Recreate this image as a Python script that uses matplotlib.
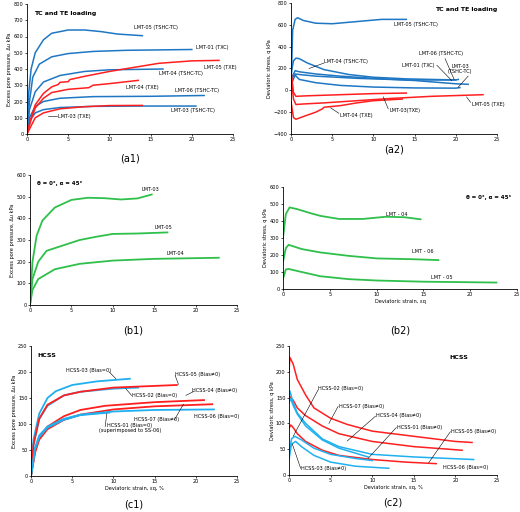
import matplotlib
matplotlib.use("Agg")
import matplotlib.pyplot as plt

BLUE = "#1f77c4"; RED = "#ff1f1f"; GREEN = "#2ec04a"; CYAN = "#20b0f0"

# (a1) excess pore pressure
a1 = {
 "LMT-05 (TSHC-TC)": (BLUE, [0,0.2,0.5,1,2,3,5,7,9,11,14], [0,250,400,500,580,620,640,640,630,615,605]),
 "LMT-01 (TXC)": (BLUE, [0,0.3,0.7,1.5,3,5,8,12,20], [0,200,350,430,475,495,508,515,520]),
 "LMT-04 (TSHC-TC)": (BLUE, [0,0.3,1,2,4,7,10,16.5], [0,150,260,320,360,385,395,400]),
 "LMT-06 (TSHC-TC)": (BLUE, [0,0.3,1,2,4,8,15,21.5], [0,100,170,200,220,230,232,237]),
 "LMT-03 (TSHC-TC)": (BLUE, [0,0.3,1,2,4,8,14,20.5], [0,80,130,150,163,170,172,172]),
 "LMT-05 (TXE)": (RED, [0,0.5,1,2,3,3.8,4,5,5.2,7,10,13,16,20,23.3], [0,100,180,250,290,305,318,322,335,355,385,410,435,450,453]),
 "LMT-04 (TXE)": (RED, [0,0.5,1,2,3,5,7.5,8,10,13.5], [0,90,160,220,255,275,285,300,310,330]),
 "LMT-03 (TXE)": (RED, [0,0.5,1,2,4,7,10,14], [0,50,100,130,155,168,175,176]),
}
# (a2) deviatoric stress
a2 = {
 "LMT-05 (TSHC-TC)": (BLUE, [0,0.2,0.5,0.8,1.5,3,5,8,11,14], [0,550,650,665,640,615,610,630,650,650]),
 "LMT-04 (TSHC-TC)": (BLUE, [0,0.3,0.6,1,2,4,7,10,14,17,20,20.3], [150,270,295,290,250,190,145,120,105,100,95,100]),
 "LMT-01 (TXC)": (BLUE, [0,0.5,1,3,6,10,15,20,21.5], [100,180,170,150,130,110,90,60,55]),
 "LMT-06 (TSHC-TC)": (BLUE, [0,0.5,1,3,8,14,20], [100,150,145,130,110,95,95]),
 "LMT-03 (TSHC-TC)": (BLUE, [0,0.5,1,3,6,10,15,20,20.5], [50,140,100,70,45,30,22,20,25]),
 "LMT-03 (TXE)": (RED, [0,0.3,0.6,2,6,10,14], [180,-20,-55,-50,-40,-30,-25]),
 "LMT-05 (TXE)": (RED, [0,0.3,0.6,1.5,4,8,12,17,23.3], [150,-80,-130,-125,-115,-95,-75,-55,-40]),
 "LMT-04 (TXE)": (RED, [0,0.3,0.6,1.5,3,3.8,4,6,8,10,13.5], [-100,-250,-265,-240,-200,-170,-155,-140,-115,-95,-80]),
}
b1 = {
 "LMT-03": ([0,0.3,0.8,1.5,3,5,7,9,11,13,14.7], [0,200,320,390,450,485,495,493,487,492,510]),
 "LMT-05": ([0,0.3,1,2,4,6,8,10,13,16.6], [0,120,200,250,275,300,315,328,330,335]),
 "LMT-04": ([0,0.3,1,3,6,10,15,22.8], [0,70,120,165,190,205,213,218]),
}
b2 = {
 "LMT - 04": ([0,0.3,0.7,1.5,3,4,6,8.5,11,13,14.7], [300,440,480,470,445,430,412,412,425,422,410]),
 "LMT - 06": ([0,0.3,0.6,2,4,7,10,14,16.6], [160,240,260,235,215,195,180,175,170]),
 "LMT - 05": ([0,0.3,0.6,2,4,7,10,15,22.8], [60,115,118,100,75,58,50,43,38]),
}
c1 = {
 "HCSS-03 (Bias=0)": (CYAN, [0,0.3,1,2,3,5,8,12], [0,70,120,150,163,175,182,187]),
 "HCSS-02 (Bias=0)": (CYAN, [0,0.3,1,2,4,6,10,13], [0,60,110,135,155,162,168,170]),
 "HCSS-05 (Bias≠0)": (RED, [0,0.3,1,2,4,6,10,17.7], [0,60,110,137,155,162,170,175]),
 "HCSS-04 (Bias≠0)": (RED, [0,0.5,1,2,4,6,9,15,21], [0,50,75,95,115,127,135,142,146]),
 "HCSS-07 (Bias≠0)": (RED, [0,0.5,1,2,4,6,10,15,22], [0,45,70,90,108,118,128,134,138]),
 "HCSS-06 (Bias=0)": (CYAN, [0,0.5,1,2,4,6,10,15,22.2], [0,55,78,95,110,118,124,127,128]),
 "HCSS-01 (Bias=0)": (CYAN, [0,0.5,1,2,4,6,9.5], [0,52,75,93,108,117,122]),
}
c2 = {
 "HCSS-07 (Bias≠0)": (RED, [0,0.1,0.5,1,2,3,5,7,10,15,20,22], [200,228,215,185,155,130,110,98,85,75,65,63]),
 "HCSS-04 (Bias≠0)": (RED, [0,0.1,0.5,1,2,4,6,10,15,20.8], [140,152,145,130,115,95,80,65,55,48]),
 "HCSS-05 (Bias≠0)": (RED, [0,0.2,0.5,1,2,4,6,10,14,17.7], [90,97,92,80,65,48,38,30,25,22]),
 "HCSS-06 (Bias=0)": (CYAN, [0,0.1,0.5,1,2,4,6,10,15,22.2], [150,163,140,120,100,70,55,40,35,30]),
 "HCSS-01 (Bias=0)": (CYAN, [0,0.2,0.5,1,2,4,6,9.5], [140,148,135,118,95,68,52,35]),
 "HCSS-02 (Bias=0)": (CYAN, [0,0.3,0.7,1.5,3,5,8,10], [40,70,75,68,52,40,32,28]),
 "HCSS-03 (Bias≠0)": (CYAN, [0,0.3,0.8,1.5,3,5,8,12], [30,60,65,55,38,25,17,13]),
}

fig = plt.figure(figsize=(5.2, 5.12), dpi=100)
FS = 3.6

def mkax(x0, x1, ytop, ybot):
    ax = fig.add_axes([x0/520, 1-ybot/512, (x1-x0)/520, (ybot-ytop)/512])
    for s in ("top", "right"):
        ax.spines[s].set_visible(False)
    for s in ("left", "bottom"):
        ax.spines[s].set_linewidth(0.6)
    ax.tick_params(labelsize=FS, length=1.5, width=0.5, pad=1)
    ax.set_xlim(0, 25); ax.set_xticks(range(0, 26, 5))
    return ax

def lab(ax, s, xy, txt, fs=FS):
    ax.text(xy[0], xy[1], s, fontsize=fs, transform=ax.transData)

# a1
ax = mkax(27, 233, 4, 134)
for k, (c, x, y) in a1.items():
    ax.plot(x, y, color=c, lw=1.1)
ax.set_ylim(0, 800); ax.set_yticks(range(0, 801, 100))
ax.set_ylabel("Excess pore pressure, Δu kPa", fontsize=FS, labelpad=1)
ax.text(0.8, 730, "TC and TE loading", fontsize=4.5, weight="bold")
for s, x, y in [("LMT-05 (TSHC-TC)", 13, 645), ("LMT-01 (TXC)", 20.5, 520), ("LMT-05 (TXE)", 21.5, 400),
                ("LMT-04 (TSHC-TC)", 16, 360), ("LMT-04 (TXE)", 12, 280), ("LMT-06 (TSHC-TC)", 18, 260),
                ("LMT-03 (TSHC-TC)", 17.5, 135), ("LMT-03 (TXE)", 3.8, 100)]:
    ax.text(x, y, s, fontsize=FS)
ax.plot([2.5, 3.6], [110, 110], color="k", lw=0.4)
ax.text(12.5, -170, "(a1)", fontsize=7, ha="center")

# a2
ax = mkax(291, 497, 3, 134)
for k, (c, x, y) in a2.items():
    ax.plot(x, y, color=c, lw=1.1)
ax.set_ylim(-400, 800); ax.set_yticks(range(-400, 801, 200))
ax.set_ylabel("Deviatoric stress, q kPa", fontsize=FS, labelpad=1)
ax.text(17.5, 730, "TC and TE loading", fontsize=4.5, weight="bold")
for s, x, y in [("LMT-05 (TSHC-TC)", 12.5, 590), ("LMT-04 (TSHC-TC)", 4, 250), ("LMT-06 (TSHC-TC)", 15.5, 320),
                ("LMT-01 (TXC)", 13.5, 210), ("LMT-03\n(TSHC-TC)", 20.5, 160), ("LMT-05 (TXE)", 22, -140),
                ("LMT-03(TXE)", 12, -200), ("LMT-04 (TXE)", 6, -240)]:
    ax.text(x, y, s, fontsize=FS, ha="center" if "\n" in s else "left", linespacing=1)
for xs, ys in [([2.2, 4], [200, 250]), ([17.7, 19.5], [230, 90]), ([18.7, 19.8], [290, 100]),
               ([20.3, 21.5], [30, 130]), ([21.3, 21.8], [-60, -110]), ([11.2, 11.8], [-60, -170]),
               ([4.8, 5.8], [-160, -210])]:
    ax.plot(xs, ys, color="k", lw=0.4)
ax.text(12.5, -570, "(a2)", fontsize=7, ha="center")

# b1
ax = mkax(30, 237, 175, 305)
for k, (x, y) in b1.items():
    ax.plot(x, y, color=GREEN, lw=1.3)
ax.set_ylim(0, 600); ax.set_yticks(range(0, 601, 100))
ax.set_ylabel("Excess pore pressure, Δu kPa", fontsize=FS, labelpad=1)
ax.text(0.8, 555, "θ = 0°, α = 45°", fontsize=4, weight="bold")
ax.text(13.5, 525, "LMT-03", fontsize=FS); ax.text(15, 350, "LMT-05", fontsize=FS); ax.text(16.5, 232, "LMT-04", fontsize=FS)
ax.text(12.5, -130, "(b1)", fontsize=7, ha="center")

# b2
ax = mkax(283, 517, 187, 289)
for k, (x, y) in b2.items():
    ax.plot(x, y, color=GREEN, lw=1.3)
ax.set_ylim(0, 600); ax.set_yticks(range(0, 601, 100))
ax.set_ylabel("Deviatoric stress, q kPa", fontsize=FS, labelpad=1)
ax.set_xlabel("Deviatoric strain, εq", fontsize=FS, labelpad=1)
ax.text(19.5, 530, "θ = 0°, α = 45°", fontsize=4, weight="bold")
ax.text(11, 430, "LMT - 04", fontsize=FS); ax.text(13.8, 210, "LMT - 06", fontsize=FS); ax.text(15.8, 60, "LMT - 05", fontsize=FS)
ax.text(12.5, -260, "(b2)", fontsize=7, ha="center")

# c1
ax = mkax(31, 237, 346, 476)
for k, (c, x, y) in c1.items():
    ax.plot(x, y, color=c, lw=1.3)
ax.set_ylim(0, 250); ax.set_yticks(range(0, 251, 50))
ax.set_ylabel("Excess pore pressure, Δu kPa", fontsize=FS, labelpad=1)
ax.set_xlabel("Deviatoric strain, εq, %", fontsize=FS, labelpad=1)
ax.text(0.8, 228, "HCSS", fontsize=4.5, weight="bold")
for s, x, y in [("HCSS-03 (Bias=0)", 4.2, 200), ("HCSS-05 (Bias≠0)", 17.5, 193), ("HCSS-02 (Bias=0)", 12.2, 152),
                ("HCSS-04 (Bias≠0)", 19.5, 162), ("HCSS-07 (Bias≠0)", 12.5, 105), ("HCSS-06 (Bias=0)", 19.8, 112),
                ("HCSS-01 (Bias=0)\n(superimposed to SS-06)", 12, 85)]:
    ax.text(x, y, s, fontsize=FS, ha="center" if "\n" in s else "left", linespacing=1)
for xs, ys in [([9.5, 10.3], [200, 187]), ([17.5, 17.9], [193, 176]), ([11.5, 12.2], [168, 155]),
               ([18.8, 19.8], [155, 163]), ([17.4, 18.5], [108, 138]), ([9, 9.2], [95, 120])]:
    ax.plot(xs, ys, color="k", lw=0.4)
ax.text(12.5, -60, "(c1)", fontsize=7, ha="center")

# c2
ax = mkax(289, 497, 346, 475)
for k, (c, x, y) in c2.items():
    ax.plot(x, y, color=c, lw=1.1)
ax.set_ylim(0, 250); ax.set_yticks(range(0, 251, 50))
ax.set_ylabel("Deviatoric stress, q kPa", fontsize=FS, labelpad=1)
ax.set_xlabel("Deviatoric strain, εq, %", fontsize=FS, labelpad=1)
ax.text(21.5, 225, "HCSS", fontsize=4.5, weight="bold", ha="right")
for s, x, y in [("HCSS-02 (Bias=0)", 3.5, 165), ("HCSS-07 (Bias≠0)", 6, 130), ("HCSS-04 (Bias≠0)", 10.5, 112),
                ("HCSS-01 (Bias≠0)", 13, 90), ("HCSS-05 (Bias≠0)", 19.5, 82), ("HCSS-06 (Bias=0)", 18.5, 12),
                ("HCSS-03 (Bias≠0)", 1.5, 10)]:
    ax.text(x, y, s, fontsize=FS)
for xs, ys in [([3.5, 0.5], [165, 75]), ([5.9, 4.8], [133, 100]), ([10.4, 7], [114, 66]),
               ([12.9, 9.5], [92, 32]), ([19.4, 16.8], [84, 24]), ([1.4, 0.4], [13, 60])]:
    ax.plot(xs, ys, color="k", lw=0.4)
ax.text(12.5, -60, "(c2)", fontsize=7, ha="center")

fig.savefig("out.png", dpi=100)
